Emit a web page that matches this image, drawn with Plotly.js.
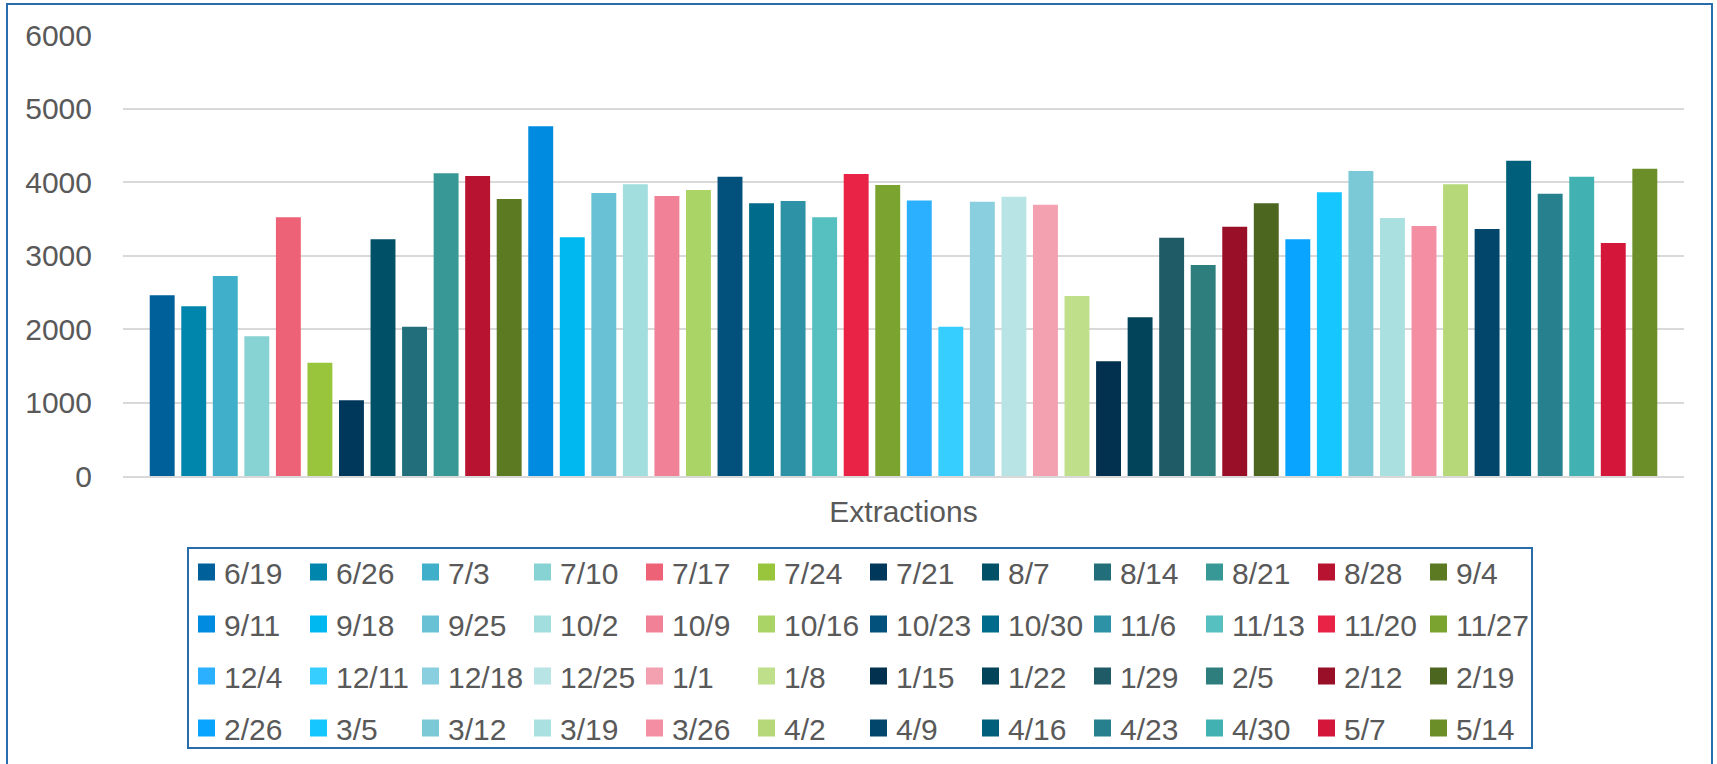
<!DOCTYPE html>
<html>
<head>
<meta charset="utf-8">
<script src="https://cdn.plot.ly/plotly-3.0.1.min.js"></script>
<style>
  html, body { margin: 0; padding: 0; background: #ffffff; }
  #chart { width: 1717px; height: 764px; }
</style>
</head>
<body>
<div id="chart"></div>
<script>
// ---- data ----
const category = "Extractions";
const weeks = [
  "6/19","6/26","7/3","7/10","7/17","7/24","7/21","8/7","8/14","8/21","8/28","9/4",
  "9/11","9/18","9/25","10/2","10/9","10/16","10/23","10/30","11/6","11/13","11/20","11/27",
  "12/4","12/11","12/18","12/25","1/1","1/8","1/15","1/22","1/29","2/5","2/12","2/19",
  "2/26","3/5","3/12","3/19","3/26","4/2","4/9","4/16","4/23","4/30","5/7","5/14"
];
const extractions = [
  2460, 2310, 2720, 1900, 3520, 1540, 1030, 3220, 2030, 4120, 4080, 3770,
  4760, 3250, 3850, 3970, 3810, 3890, 4070, 3710, 3740, 3520, 4110, 3960,
  3750, 2030, 3730, 3800, 3690, 2450, 1560, 2160, 3240, 2870, 3390, 3710,
  3220, 3860, 4150, 3510, 3400, 3970, 3360, 4290, 3840, 4070, 3170, 4180
];
const yTicks = [0, 1000, 2000, 3000, 4000, 5000, 6000];

// ---- styles ----
const colors = [
  "#00609A","#0086AD","#40AFC9","#87D2D2","#EE6278","#98C53C","#00385B","#005167","#226E7A","#389895","#B81431","#5B7A21",
  "#008BE0","#00B8F0","#68C1D5","#A1DEDD","#F08196","#ABD467","#02507C","#006B8A","#2E92A6","#56BFBF","#E92346","#7AA330",
  "#2AB0FF","#36CEFF","#8ACFDF","#B8E4E5","#F3A1B0","#C0DF8A","#02304F","#02455B","#1F5B66","#2F7E7E","#990F28","#4C651F",
  "#08A4FF","#16C6FF","#7BC8D6","#ABE0E0","#F48FA3","#B6D878","#02466B","#005F7A","#27808E","#42B1B1","#D4163A","#6B8E28"
];
const FONT = '"Liberation Sans", Arial, sans-serif';
const TXT = '#595959';
const BLUE = '#2A6DAC';
const nCols = 12;
const legendId = c => (c === 0 ? 'legend' : 'legend' + (c + 1));

const traces = weeks.map((w, i) => ({
  type: 'bar',
  name: w,
  x: [category],
  y: [extractions[i]],
  marker: { color: colors[i] },
  legend: legendId(i % nCols),
  legendgroup: 'g' + i,
  hoverinfo: 'name+y'
}));

// plot area: x 123..1684, y 35..476 (px)
const L = 123, R = 1684, T = 35, B = 476, W = 1717, H = 764;
const pw = R - L, ph = B - T;
const px2x = p => (p - L) / pw;
const px2y = p => (B - p) / ph;

function legendCol(c) {
  return {
    orientation: 'v',
    x: px2x(184 + 112 * c), xanchor: 'left',
    y: px2y(546), yanchor: 'top',
    bgcolor: 'rgba(0,0,0,0)',
    borderwidth: 0,
    tracegroupgap: 10,
    font: { family: FONT, size: 30, color: TXT },
    traceorder: 'grouped'
  };
}

const layout = {
  width: W, height: H,
  margin: { l: L, r: W - R, t: T, b: H - B, autoexpand: false },
  paper_bgcolor: '#ffffff',
  plot_bgcolor: '#ffffff',
  barmode: 'group',
  bargap: 0.03,
  bargroupgap: 0.21,
  font: { family: FONT, color: TXT },
  showlegend: true,
  xaxis: {
    type: 'category',
    showgrid: false,
    showline: true, linecolor: '#D9D9D9', linewidth: 2,
    ticks: 'outside', ticklen: 8, tickcolor: 'rgba(0,0,0,0)',
    tickfont: { family: FONT, size: 30, color: TXT },
    zeroline: false
  },
  yaxis: {
    range: [0, 6000],
    tickvals: yTicks,
    ticktext: yTicks.map(String),
    showgrid: true, gridcolor: '#D9D9D9', gridwidth: 2,
    zeroline: false,
    showline: false,
    ticks: 'outside', ticklen: 24, tickcolor: 'rgba(0,0,0,0)',
    tickfont: { family: FONT, size: 30, color: TXT }
  },
  shapes: [
    { type: 'rect', xref: 'paper', yref: 'paper',
      x0: px2x(7), x1: px2x(1712), y0: px2y(800), y1: px2y(4),
      line: { color: BLUE, width: 2 }, fillcolor: 'rgba(0,0,0,0)', layer: 'above' },
    { type: 'rect', xref: 'paper', yref: 'paper',
      x0: px2x(188), x1: px2x(1532), y0: px2y(748), y1: px2y(548),
      line: { color: BLUE, width: 2 }, fillcolor: 'rgba(0,0,0,0)', layer: 'above' }
  ]
};
for (let c = 0; c < nCols; c++) layout[legendId(c)] = legendCol(c);

Plotly.newPlot('chart', traces, layout, { displayModeBar: false, responsive: false })
  .then(gd => {
    // enlarge legend swatches to match the reference's ~17px squares
    gd.querySelectorAll('.legendpoints path').forEach(p => {
      p.setAttribute('d', 'M11,8.5H-6V-8.5H11Z');
    });
  });
</script>
</body>
</html>
